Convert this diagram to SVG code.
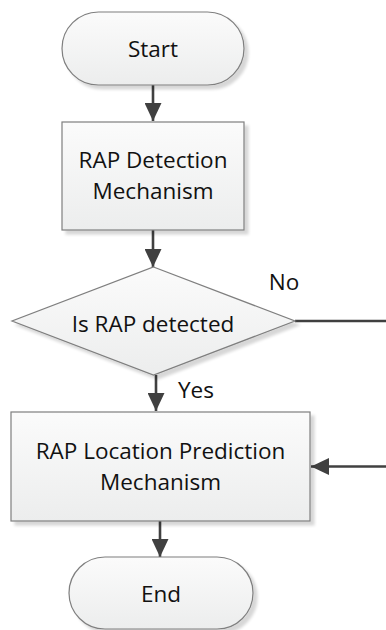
<svg xmlns="http://www.w3.org/2000/svg" width="386" height="630" viewBox="0 0 386 630">
  <style>
    .shape { fill: url(#boxFill); stroke: #7f7f7f; stroke-width: 1.2; filter: url(#shadow); }
    .label { font-family: "Open Sans", "Liberation Sans", sans-serif; font-size: 22.5px; fill: #111111; text-anchor: middle; }
    .edge { fill: none; stroke: #404040; stroke-width: 2.6; }
    .arrow { marker-end: url(#head); }
  </style>
  <defs>
    <linearGradient id="boxFill" x1="0" y1="0" x2="0" y2="1">
      <stop offset="0" stop-color="#fbfbfb"/>
      <stop offset="1" stop-color="#eceded"/>
    </linearGradient>
    <filter id="shadow" x="-10%" y="-10%" width="130%" height="130%">
      <feGaussianBlur in="SourceAlpha" stdDeviation="1.5"/>
      <feOffset dx="4" dy="4" result="blur"/>
      <feComponentTransfer>
        <feFuncA type="linear" slope="0.16"/>
      </feComponentTransfer>
      <feMerge>
        <feMergeNode/>
        <feMergeNode in="SourceGraphic"/>
      </feMerge>
    </filter>
    <marker id="head" markerUnits="userSpaceOnUse" markerWidth="18" markerHeight="17" refX="18" refY="8.5" orient="auto">
      <path d="M0,0 L18,8.5 L0,17 Z" fill="#404040"/>
    </marker>
  </defs>

  <!-- connectors -->
  <g id="connectors">
    <line class="edge arrow" x1="153" y1="85" x2="153" y2="121"/>
    <line class="edge arrow" x1="153" y1="230" x2="153" y2="267"/>
    <line class="edge arrow" x1="156" y1="375" x2="156" y2="411"/>
    <line class="edge arrow" x1="160" y1="521" x2="160" y2="557"/>
    <line class="edge" x1="295" y1="321" x2="386" y2="321"/>
    <line class="edge arrow" x1="386" y1="466.5" x2="311" y2="466.5"/>
    <text class="label" x="284" y="290">No</text>
    <text class="label" x="196" y="398">Yes</text>
  </g>

  <g id="start">
    <rect class="shape" x="62" y="12" width="182" height="73" rx="36.5"/>
    <text class="label" x="153" y="57">Start</text>
  </g>

  <g id="detection">
    <rect class="shape" x="62" y="122" width="182" height="108"/>
    <text class="label" x="153" y="168">RAP Detection</text>
    <text class="label" x="153" y="199">Mechanism</text>
  </g>

  <g id="decision">
    <polygon class="shape" points="153.5,267 295,321 153.5,375 12,321"/>
    <text class="label" x="153" y="332">Is RAP detected</text>
  </g>

  <g id="prediction">
    <rect class="shape" x="11" y="412" width="299" height="109"/>
    <text class="label" x="160.5" y="459">RAP Location Prediction</text>
    <text class="label" x="160.5" y="490">Mechanism</text>
  </g>

  <g id="end">
    <rect class="shape" x="69" y="557" width="184" height="72" rx="36"/>
    <text class="label" x="161" y="602">End</text>
  </g>
</svg>
